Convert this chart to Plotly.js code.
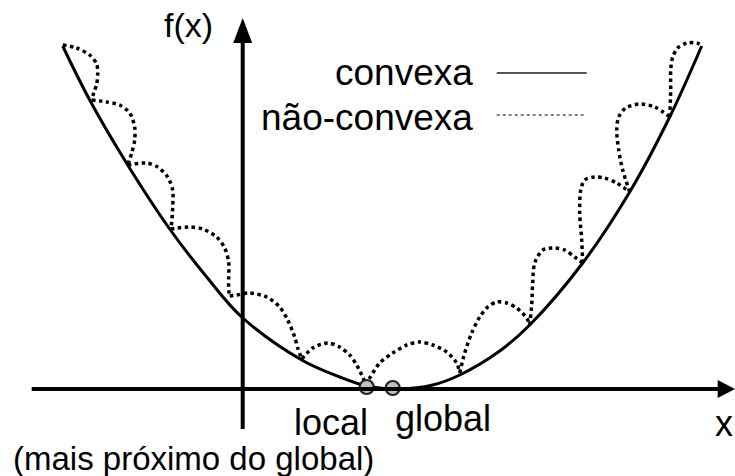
<!DOCTYPE html>
<html>
<head>
<meta charset="utf-8">
<script src="https://cdn.plot.ly/plotly-3.0.1.min.js"></script>
<style>
  html, body { margin: 0; padding: 0; background: #ffffff; }
  #chart { width: 735px; height: 476px; }
</style>
</head>
<body>
<div id="chart"></div>
<script>
// Convex function: a single smooth bowl
const convexX = [-1.80, -1.53, -1.15, -0.73, -0.36, -0.01, 0.59, 0.97, 1.24, 1.57, 1.90, 2.17, 2.57, 2.87, 3.40, 3.87, 4.27, 4.59];
const convexY = [3.43, 2.89, 2.24, 1.60, 1.12, 0.72, 0.29, 0.12, 0.03, 0.00, 0.04, 0.14, 0.38, 0.64, 1.26, 1.97, 2.72, 3.43];

// Non-convex function: a chain of bumps resting on the convex bowl
const bumpsX = [
  [-1.80, -1.66, -1.53, -1.46, -1.45, -1.46, -1.49, -1.51],
  [-1.51, -1.36, -1.23, -1.13, -1.08, -1.08, -1.11, -1.15],
  [-1.15, -0.96, -0.85, -0.75, -0.70, -0.70, -0.71, -0.72],
  [-0.72, -0.53, -0.40, -0.26, -0.18, -0.14, -0.14, -0.14, -0.13],
  [-0.13, -0.06, 0.07, 0.24, 0.37, 0.45, 0.52, 0.55, 0.59],
  [0.59, 0.70, 0.85, 0.97, 1.07, 1.14, 1.20, 1.23],
  [1.23, 1.27, 1.37, 1.50, 1.64, 1.77, 1.90, 2.04, 2.14, 2.17],
  [2.17, 2.22, 2.29, 2.37, 2.45, 2.54, 2.64, 2.74, 2.84, 2.87],
  [2.87, 2.89, 2.90, 2.92, 3.00, 3.12, 3.22, 3.32, 3.40],
  [3.40, 3.39, 3.37, 3.38, 3.42, 3.52, 3.62, 3.74, 3.87],
  [3.87, 3.80, 3.76, 3.74, 3.76, 3.83, 3.97, 4.12, 4.27],
  [4.27, 4.28, 4.28, 4.30, 4.35, 4.44, 4.54, 4.59]
];
const bumpsY = [
  [3.44, 3.41, 3.34, 3.25, 3.15, 3.05, 2.96, 2.89],
  [2.89, 2.87, 2.84, 2.76, 2.62, 2.49, 2.36, 2.24],
  [2.24, 2.26, 2.22, 2.12, 1.99, 1.82, 1.67, 1.60],
  [1.60, 1.62, 1.60, 1.52, 1.41, 1.27, 1.12, 0.99, 0.93],
  [0.93, 0.94, 0.96, 0.92, 0.82, 0.69, 0.52, 0.41, 0.30],
  [0.30, 0.41, 0.46, 0.42, 0.34, 0.24, 0.12, 0.04],
  [0.04, 0.11, 0.26, 0.36, 0.44, 0.47, 0.44, 0.37, 0.26, 0.16],
  [0.16, 0.36, 0.56, 0.72, 0.82, 0.87, 0.86, 0.81, 0.71, 0.64],
  [0.64, 0.84, 1.06, 1.26, 1.39, 1.41, 1.39, 1.32, 1.26],
  [1.26, 1.49, 1.76, 1.99, 2.09, 2.12, 2.11, 2.06, 1.97],
  [1.97, 2.19, 2.39, 2.59, 2.72, 2.81, 2.85, 2.82, 2.72],
  [2.72, 2.99, 3.19, 3.32, 3.41, 3.46, 3.46, 3.44]
];

// Minima marked on the x axis
const minimaNames = ['local', 'global'];
const minimaX = [1.24, 1.50];
const minimaY = [0.02, 0.01];

// Text
const legendLabels = ['convexa', 'não-convexa'];
const axisLabels = ['f(x)', 'x'];
const localNote = '(mais próximo do global)';

// Join the bumps into one trace, breaking the line between bumps so each keeps its cusp
const nonX = [], nonY = [];
bumpsX.forEach((xs, i) => {
  if (i > 0) { nonX.push(null); nonY.push(null); }
  xs.forEach((x, j) => { nonX.push(x); nonY.push(bumpsY[i][j]); });
});

const FONT = 'Liberation Sans, Arial, Helvetica, sans-serif';

const traces = [
  {
    x: nonX, y: nonY, type: 'scatter', mode: 'lines', connectgaps: false,
    line: { color: '#000', width: 3.5, dash: 'dot', shape: 'spline', smoothing: 0.8 },
    hoverinfo: 'skip', showlegend: false
  },
  {
    x: convexX, y: convexY, type: 'scatter', mode: 'lines',
    line: { color: '#000', width: 3, shape: 'spline', smoothing: 1 },
    hoverinfo: 'skip', showlegend: false
  },
  {
    x: minimaX, y: minimaY, type: 'scatter', mode: 'markers', text: minimaNames,
    marker: { size: 14, color: '#c0c0c0', line: { color: '#222', width: 2.2 } },
    hoverinfo: 'skip', showlegend: false, cliponaxis: false
  }
];

const shapes = [
  // x axis with arrow head
  { type: 'line', x0: -2.11, x1: 4.76, y0: 0, y1: 0, line: { color: '#000', width: 4 } },
  { type: 'path', path: 'M 4.75 0.09 L 4.925 0 L 4.75 -0.09 Z', fillcolor: '#000', line: { color: '#000', width: 0 } },
  // f(x) axis with arrow head
  { type: 'line', x0: 0, x1: 0, y0: -0.40, y1: 3.47, line: { color: '#000', width: 4 } },
  { type: 'path', path: 'M -0.095 3.46 L 0 3.71 L 0.095 3.46 Z', fillcolor: '#000', line: { color: '#000', width: 0 } },
  // legend samples
  { type: 'line', x0: 2.54, x1: 3.44, y0: 3.16, y1: 3.16, line: { color: '#555', width: 2 } },
  { type: 'line', x0: 2.54, x1: 3.44, y0: 2.74, y1: 2.74, line: { color: '#000', width: 1, dash: 'dot' } }
];

const ann = (text, x, y, xanchor, size) => ({
  text, x, y, xref: 'x', yref: 'y', xanchor, yanchor: 'middle', showarrow: false,
  font: { family: FONT, size, color: '#000' }
});

const annotations = [
  ann(axisLabels[0], -0.28, 3.64, 'right', 34),
  ann(axisLabels[1], 4.92, -0.34, 'right', 36),
  ann(legendLabels[0], 2.32, 3.17, 'right', 37),
  ann(legendLabels[1], 2.32, 2.72, 'right', 37),
  ann(minimaNames[0], 0.88, -0.33, 'center', 36),
  ann(minimaNames[1], 2.00, -0.29, 'center', 36),
  ann(localNote, -2.32, -0.69, 'left', 33)
];

const layout = {
  width: 735, height: 476,
  margin: { l: 0, r: 0, t: 0, b: 0, pad: 0 },
  paper_bgcolor: '#fff', plot_bgcolor: '#fff',
  xaxis: { range: [-2.427, 4.923], visible: false, fixedrange: true },
  yaxis: { range: [-0.87, 3.89], visible: false, fixedrange: true },
  shapes, annotations, showlegend: false
};

Plotly.newPlot('chart', traces, layout, { staticPlot: true, displayModeBar: false });
</script>
</body>
</html>
